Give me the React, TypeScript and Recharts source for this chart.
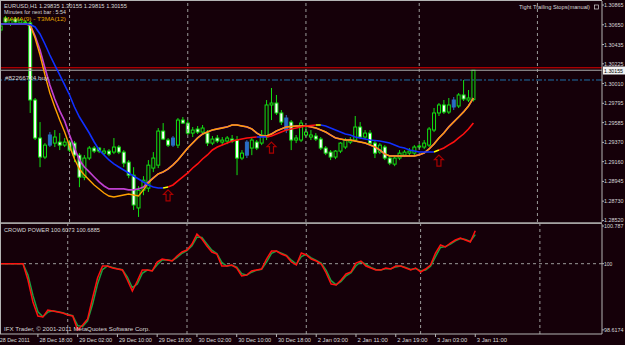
import React from "react";
import { ComposedChart, Bar, Line, XAxis, YAxis, ReferenceLine } from "recharts";

// ---------- data ----------
const opens = [1.30593,1.30724,1.30659,1.30713,1.3067,1.3067,1.3067,1.29831,1.29417,1.2921,1.2934,1.29362,1.29373,1.2934,1.29373,1.29362,1.29231,1.28991,1.29199,1.29308,1.29308,1.29253,1.29275,1.29264,1.29319,1.29264,1.29155,1.29013,1.28656,1.28849,1.28871,1.2909,1.29122,1.29493,1.29395,1.2934,1.2934,1.29613,1.2958,1.29471,1.29515,1.29482,1.29471,1.29362,1.29417,1.29373,1.29384,1.29406,1.29395,1.29199,1.29231,1.29308,1.29373,1.29362,1.29428,1.29777,1.29798,1.2969,1.29504,1.29591,1.29395,1.29395,1.2945,1.29428,1.29439,1.29406,1.29308,1.29264,1.2921,1.29275,1.29319,1.29373,1.29395,1.29537,1.29428,1.29471,1.29362,1.29264,1.29319,1.29199,1.29133,1.29199,1.29231,1.29253,1.29253,1.29319,1.29319,1.2934,1.29504,1.2969,1.29777,1.297,1.29755,1.29766,1.29886,1.29831,1.29835];
const highs = [1.30659,1.30746,1.30724,1.30735,1.30724,1.30702,1.30691,1.29853,1.29591,1.29362,1.29482,1.29504,1.29471,1.29417,1.29395,1.29384,1.29253,1.29231,1.2933,1.2933,1.29319,1.29308,1.29297,1.29417,1.2934,1.29286,1.29177,1.291,1.28893,1.29002,1.29177,1.29264,1.29526,1.2958,1.29417,1.29439,1.29635,1.29646,1.29613,1.29537,1.29548,1.29559,1.29504,1.29439,1.2945,1.29428,1.29439,1.2945,1.29439,1.29286,1.29395,1.29428,1.29395,1.29504,1.29831,1.29962,1.29886,1.29722,1.29668,1.29613,1.2945,1.29613,1.29559,1.29504,1.29471,1.29428,1.2933,1.29286,1.29286,1.29373,1.29417,1.29428,1.29657,1.29591,1.29504,1.29504,1.29384,1.29362,1.2934,1.2922,1.2922,1.29286,1.29286,1.29308,1.2934,1.29351,1.29395,1.29537,1.29744,1.29798,1.29831,1.29853,1.29864,1.29907,1.30049,1.2994,1.30155];
const lows = [1.30561,1.30659,1.30637,1.30659,1.30648,1.30648,1.2969,1.29395,1.291,1.29188,1.29319,1.29319,1.29286,1.29319,1.29264,1.29155,1.28882,1.28958,1.29177,1.29253,1.29253,1.29231,1.2922,1.29242,1.29242,1.291,1.2898,1.28634,1.28558,1.28795,1.2883,1.29046,1.2909,1.29395,1.29319,1.29319,1.29308,1.2957,1.2945,1.29428,1.29461,1.2945,1.2933,1.2934,1.29362,1.2934,1.29351,1.29362,1.29013,1.29177,1.29199,1.29231,1.29286,1.2934,1.29395,1.29613,1.29668,1.29559,1.29471,1.29286,1.29362,1.29373,1.29428,1.29395,1.29384,1.29286,1.29231,1.29177,1.29188,1.29253,1.29297,1.29351,1.29373,1.29406,1.29406,1.2934,1.29199,1.29242,1.29177,1.29122,1.29111,1.29177,1.2921,1.29231,1.29231,1.29297,1.29297,1.29319,1.29482,1.29657,1.29679,1.29679,1.29722,1.29744,1.2982,1.29809,1.29815];
const closes = [1.30637,1.3068,1.30702,1.3068,1.30702,1.3068,1.29831,1.29417,1.2921,1.2934,1.2945,1.29428,1.2934,1.29373,1.29286,1.29231,1.28991,1.29199,1.29308,1.29275,1.29275,1.29275,1.29242,1.29319,1.29264,1.29144,1.29013,1.28688,1.28849,1.28958,1.29122,1.29199,1.29493,1.29406,1.2934,1.29417,1.29613,1.2958,1.29471,1.29504,1.29482,1.29526,1.29362,1.29406,1.29384,1.29395,1.29417,1.29384,1.29199,1.29253,1.29373,1.29395,1.29308,1.2945,1.29777,1.29798,1.2969,1.29591,1.29635,1.29395,1.29417,1.2958,1.29482,1.2945,1.29406,1.29308,1.29253,1.2921,1.29275,1.29362,1.29395,1.29395,1.29537,1.29428,1.29471,1.29362,1.29253,1.2934,1.29199,1.29144,1.29199,1.29253,1.29264,1.29275,1.29319,1.2933,1.29362,1.29515,1.2969,1.29777,1.297,1.29777,1.29831,1.29886,1.29842,1.29853,1.30155];
const blueCandles = [10, 35, 50, 58, 92];

const slowMA = [1.30659,1.30659,1.30659,1.30659,1.30659,1.30659,1.30653,1.30626,1.3055,1.30441,1.30321,1.30212,1.30104,1.29995,1.29886,1.29755,1.29646,1.29559,1.29472,1.29374,1.29287,1.29233,1.29178,1.29135,1.29102,1.29069,1.29037,1.29004,1.28971,1.28939,1.28906,1.28884,1.28873,1.28873,1.28884,1.28906,1.2895,1.28993,1.29037,1.29091,1.29135,1.29189,1.29233,1.29287,1.2932,1.29342,1.29363,1.29385,1.29396,1.29407,1.29418,1.29423,1.29429,1.29429,1.29429,1.2944,1.29461,1.29483,1.29505,1.29516,1.29527,1.29538,1.29548,1.29554,1.29559,1.29559,1.29548,1.29527,1.29505,1.29483,1.29461,1.2945,1.29429,1.29418,1.29407,1.29396,1.29391,1.29385,1.29374,1.29363,1.29342,1.2932,1.29309,1.29287,1.29276,1.29265,1.29265,1.29265,1.29265,1.29287,1.29309,1.29342,1.29374,1.29418,1.29461,1.29516,1.29581];
const slowColor = "bbbbbbbbbbbbbbbbbbbbbbbbbbbbbbbbbb" + "y" + "rrrrrrrrrrrrrrrrrr" + "bb" + "rrrrrrrrrr" + "y" + "bbbbbbbbbbbbbbbbbbbbbbb" + "y" + "rrrrrrr";

const orangeMA = [1.30659,1.30659,1.30659,1.30659,1.30659,1.30659,1.30648,1.30506,1.30321,1.30104,1.29908,1.29755,1.29614,1.29483,1.29331,1.29189,1.2908,1.29015,1.2896,1.28906,1.28863,1.28819,1.28786,1.28775,1.28786,1.28797,1.28808,1.28797,1.28786,1.28852,1.28928,1.28982,1.29026,1.29048,1.2908,1.29124,1.29178,1.29244,1.29309,1.29363,1.29418,1.29461,1.29483,1.29505,1.29516,1.29527,1.29538,1.29559,1.29559,1.29548,1.29538,1.29516,1.29472,1.2944,1.2944,1.29461,1.29494,1.29516,1.29538,1.29543,1.29548,1.29548,1.29548,1.29538,1.29527,1.29505,1.29483,1.2945,1.29418,1.29407,1.29396,1.29396,1.29385,1.29374,1.29363,1.29342,1.2932,1.29287,1.29244,1.29222,1.29222,1.29222,1.29222,1.29222,1.29222,1.29233,1.29255,1.29298,1.29352,1.29418,1.29472,1.29538,1.29592,1.29646,1.29701,1.29766,1.29853];
const magentaMA = [1.30659,1.30659,1.30659,1.30659,1.30659,1.30659,1.30648,1.30528,1.30376,1.3018,1.29995,1.29842,1.29712,1.29603,1.2945,1.29309,1.29178,1.29102,1.29048,1.28993,1.28939,1.28895,1.28863,1.28863,1.28863,1.28863,1.28852,1.28852,1.28863,1.28884,1.28939,1.28982,1.29026,1.29048,1.2908,1.29124,1.29178,1.29244,1.29309,1.29363,1.29418,1.29461,1.29483,1.29505,1.29516,1.29527,1.29538,1.29559,1.29559,1.29548,1.29538,1.29516,1.29472,1.2944,1.2944,1.29461,1.29494,1.29516,1.29538,1.29543,1.29548,1.29548,1.29548,1.29538,1.29527,1.29505,1.29483,1.2945,1.29418,1.29407,1.29396,1.29396,1.29385,1.29374,1.29363,1.29342,1.2932,1.29287,1.29244,1.29222,1.29222,1.29222,1.29222,1.29222,1.29222,1.29233,1.29255,1.29298,1.29352,1.29418,1.29472,1.29538,1.29592,1.29646,1.29701,1.29766,1.29853];

const arrowBars = [34, 55, 89];
const arrowPrices = [1.28852, 1.29373, 1.29231];

const crowdRed = [100,100,100,100,100,100,99.66,99.2,98.908,98.887,99.033,99.012,98.991,98.971,98.929,98.908,98.62,98.72,98.845,99.284,99.701,99.952,99.952,99.91,99.889,99.868,99.66,99.43,99.639,99.868,99.868,99.848,100.035,100.098,100.077,100.056,100.161,100.244,100.286,100.411,100.62,100.516,100.369,100.244,100.202,99.952,99.952,99.973,99.91,99.743,99.764,99.848,99.868,99.889,100.098,100.265,100.265,100.202,100.161,100.035,99.973,100.223,100.182,100.098,100.056,99.994,99.806,99.576,99.555,99.66,99.785,99.827,100.014,100.056,99.952,99.91,99.868,99.868,99.91,99.889,99.952,99.952,99.91,99.868,99.91,99.827,99.889,99.973,100.223,100.39,100.349,100.432,100.495,100.536,100.495,100.453,100.6885];
const crowdGreen = [100,100,100,100,100,100,99.762,99.338,98.996,98.893,98.989,99.018,98.997,98.977,98.942,98.914,98.706,98.69,98.808,99.152,99.576,99.877,99.952,99.923,99.895,99.874,99.722,99.499,99.576,99.799,99.868,99.854,99.979,100.079,100.083,100.062,100.13,100.219,100.273,100.374,100.557,100.547,100.413,100.282,100.215,100.027,99.952,99.967,99.929,99.793,99.758,99.823,99.862,99.883,100.035,100.215,100.265,100.221,100.173,100.073,99.992,100.148,100.194,100.123,100.069,100.013,99.862,99.645,99.561,99.629,99.748,99.814,99.958,100.043,99.983,99.923,99.881,99.868,99.897,99.895,99.933,99.952,99.923,99.881,99.897,99.852,99.87,99.948,100.148,100.34,100.361,100.407,100.476,100.524,100.507,100.466,100.6073];

const xTickIdx = [0, 8, 16, 24, 32, 40, 48, 56, 64, 72, 80, 88, 96];
const xTickLabels = ["28 Dec 2011","28 Dec 18:00","29 Dec 02:00","29 Dec 10:00","29 Dec 18:00","30 Dec 02:00","30 Dec 10:00","30 Dec 18:00","2 Jan 03:00","2 Jan 11:00","2 Jan 19:00","3 Jan 03:00","3 Jan 11:00"];
const daySeparators = [14, 38, 62, 85, 109];

const priceTicks = [1.30865,1.3065,1.30435,1.30225,1.3001,1.29795,1.29585,1.2937,1.2916,1.28945,1.2873,1.2852];
const powerTicks = [100.787, 100, 98.6174];

const bidPrice = 1.30155;
const stopPrice = 1.30182;
const orderPrice = 1.30049;

// ---------- table ----------
const SLOTS = 110;
const seg = (c: string, i: number) =>
  i < slowMA.length && (slowColor[i] === c || slowColor[i + 1] === c) ? slowMA[i] : null;

const rows = Array.from({ length: SLOTS }, (_, i) => {
  const has = i < opens.length;
  const ai = arrowBars.indexOf(i);
  return {
    idx: i,
    range: has ? [lows[i], highs[i]] : null,
    open: has ? opens[i] : null,
    high: has ? highs[i] : null,
    low: has ? lows[i] : null,
    close: has ? closes[i] : null,
    blue: blueCandles.includes(i),
    slowB: seg("b", i),
    slowY: seg("y", i),
    slowR: seg("r", i),
    orange: has ? orangeMA[i] : null,
    magenta: has ? magentaMA[i] : null,
    arrow: ai >= 0 ? arrowPrices[ai] : null,
    cr: has ? crowdRed[i] : null,
    cg: has ? crowdGreen[i] : null,
  };
});

// ---------- styles ----------
const BG = "#150009";
const LIME = "#12e012";
const STEEL = "#2a6cc4";
const TXT = "#d8d8d8";
const GRID = "#9a9a9a";
const AXIS = "#b4b4b4";
const FONT = "'Liberation Sans', Arial, sans-serif";

const Candle = (props: any) => {
  const { x, y, width, height, payload } = props;
  if (!payload || payload.high == null) return <g />;
  const top = Math.min(y, y + height);
  const bot = Math.max(y, y + height);
  const span = payload.high - payload.low;
  const toY = (v: number) => (span > 0 ? top + ((payload.high - v) / span) * (bot - top) : top);
  const cx = x + width / 2;
  const yo = toY(payload.open);
  const yc = toY(payload.close);
  const bTop = Math.min(yo, yc);
  const bH = Math.max(Math.abs(yc - yo), 0.8);
  const bull = payload.close >= payload.open;
  const stroke = payload.blue ? STEEL : LIME;
  const fill = payload.blue ? STEEL : bull ? BG : "#ffffff";
  return (
    <g>
      <line x1={cx} x2={cx} y1={top} y2={bot} stroke={stroke} strokeWidth={1} />
      <rect x={cx - 1.5} y={bTop} width={3} height={bH} fill={fill} stroke={stroke} strokeWidth={1} />
    </g>
  );
};

const ArrowDot = (props: any) => {
  const { cx, cy, index } = props;
  if (cy == null || isNaN(cy) || cx == null) return <g key={"a" + index} />;
  const d = `M${cx},${cy} L${cx + 4.5},${cy + 4.5} L${cx + 2},${cy + 4.5} L${cx + 2},${cy + 11} L${cx - 2},${cy + 11} L${cx - 2},${cy + 4.5} L${cx - 4.5},${cy + 4.5} Z`;
  return <path key={"a" + index} d={d} fill="none" stroke="#a80000" strokeWidth={1.2} />;
};

// chart coordinates are shifted by LEFT_SHIFT relative to the page
const LEFT_SHIFT = 12;
const PAGE_W = 625;

const RightTick = (props: any) => {
  const { x, y, payload, digits } = props;
  const v = payload.value as number;
  const s = digits === "p" ? v.toFixed(5) : String(v);
  const avail = PAGE_W + LEFT_SHIFT - x - 1.5;
  const w = Math.min(s.length * 2.8, avail);
  return (
    <text x={x} y={y} dy={2} fontSize={5.3} fontFamily={FONT} fill={TXT} textAnchor="start"
      textLength={w} lengthAdjust="spacingAndGlyphs">
      {s}
    </text>
  );
};

const BottomTick = (props: any) => {
  const { x, y, payload } = props;
  const k = xTickIdx.indexOf(payload.value);
  const s = k >= 0 ? xTickLabels[k] : "";
  return (
    <text x={x + 1.5} y={y} dy={5} fontSize={6} fontFamily={FONT} fill={TXT} textAnchor="start"
      textLength={s.length * 2.75} lengthAdjust="spacingAndGlyphs">
      {s}
    </text>
  );
};

const CHART_W = 637;
const MARGIN_LEFT = 10.14;
const PAD_RIGHT = 62.11;
const YW = 23;

const T = (p: { x: number; y: number; w: number; s: string; c?: string; fs?: number }) => (
  <text x={p.x} y={p.y} fontSize={p.fs || 6} fontFamily={FONT} fill={p.c || TXT}
    textLength={p.w} lengthAdjust="spacingAndGlyphs">
    {p.s}
  </text>
);

export default function App() {
  return (
    <div style={{ position: "fixed", left: 0, top: 0, width: PAGE_W, height: 345, background: BG, overflow: "hidden" }}>
      <div style={{ position: "absolute", left: -LEFT_SHIFT, top: 0 }}>
        <ComposedChart width={CHART_W} height={222} data={rows}
          margin={{ top: 1, right: 0, bottom: 0, left: MARGIN_LEFT }}>
          <XAxis dataKey="idx" type="category" hide padding={{ left: 0, right: PAD_RIGHT }} />
          <YAxis orientation="right" width={YW} domain={[1.28503, 1.30909]} allowDataOverflow
            ticks={priceTicks} interval={0} tickSize={2} tickMargin={0}
            axisLine={{ stroke: AXIS }} tickLine={{ stroke: AXIS }}
            tick={<RightTick digits="p" />} />
          {daySeparators.map((d) => (
            <ReferenceLine key={"d" + d} x={d} stroke={GRID} strokeDasharray="3 3" ifOverflow="visible" />
          ))}
          <ReferenceLine y={orderPrice} stroke="#1f6fa8" strokeDasharray="6 2 2 2" />
          <ReferenceLine y={bidPrice} stroke="#a8a8a8" />
          <ReferenceLine y={stopPrice} stroke="#e00000" />
          <Bar dataKey={(d: any) => d.range} barSize={3} shape={<Candle />} isAnimationActive={false} />
          <Line dataKey="magenta" stroke="#c040d0" strokeWidth={1.7} dot={false} activeDot={false} isAnimationActive={false} />
          <Line dataKey="orange" stroke="#ffa000" strokeWidth={1.4} dot={false} activeDot={false} isAnimationActive={false} />
          <Line dataKey="slowB" stroke="#1030ff" strokeWidth={1.6} dot={false} activeDot={false} isAnimationActive={false} connectNulls={false} />
          <Line dataKey="slowR" stroke="#ff1010" strokeWidth={1.6} dot={false} activeDot={false} isAnimationActive={false} connectNulls={false} />
          <Line dataKey="slowY" stroke="#ffff00" strokeWidth={1.6} dot={false} activeDot={false} isAnimationActive={false} connectNulls={false} />
          <Line dataKey="arrow" stroke="none" dot={ArrowDot} activeDot={false} isAnimationActive={false} />
        </ComposedChart>
      </div>
      <div style={{ position: "absolute", left: -LEFT_SHIFT, top: 223 }}>
        <ComposedChart width={CHART_W} height={122} data={rows}
          margin={{ top: 1, right: 0, bottom: 0, left: MARGIN_LEFT }}>
          <XAxis dataKey="idx" type="category" height={11} padding={{ left: 0, right: PAD_RIGHT }}
            ticks={xTickIdx} interval={0} tickSize={3} tickMargin={0}
            axisLine={{ stroke: AXIS }} tickLine={{ stroke: AXIS }} tick={<BottomTick />} />
          <YAxis orientation="right" width={YW} domain={[98.532, 100.829]} allowDataOverflow
            ticks={powerTicks} interval={0} tickSize={2} tickMargin={0}
            axisLine={{ stroke: AXIS }} tickLine={{ stroke: AXIS }}
            tick={<RightTick digits="v" />} />
          {daySeparators.map((d) => (
            <ReferenceLine key={"e" + d} x={d} stroke={GRID} strokeDasharray="3 3" ifOverflow="visible" />
          ))}
          <ReferenceLine y={100} stroke={GRID} strokeDasharray="3 3" />
          <Line dataKey="cg" stroke="#1aa040" strokeWidth={1.5} dot={false} activeDot={false} isAnimationActive={false} />
          <Line dataKey="cr" stroke="#ff1010" strokeWidth={1.5} dot={false} activeDot={false} isAnimationActive={false} />
        </ComposedChart>
      </div>
      <svg width={PAGE_W} height={345} style={{ position: "absolute", left: 0, top: 0, pointerEvents: "none" }}>
        <line x1={0.5} x2={0.5} y1={0} y2={334} stroke={AXIS} />
        <line x1={0} x2={602} y1={0.5} y2={0.5} stroke={AXIS} />
        <rect x={0} y={222.3} width={602} height={1.6} fill={AXIS} />
        <rect x={603} y={66.5} width={22} height={8} fill="#f2f2f2" />
        <T x={604} y={73} w={19} s="1.30155" c="#000000" fs={5.3} />
        <T x={4} y={7.5} w={123} s="EURUSD,H1  1.29835 1.30155 1.29815 1.30155" />
        <T x={4} y={14} w={62} s="Minutes for next bar : 5:54" />
        <T x={4} y={20.5} w={62} s="MAMA(9) - T3MA(12)" c="#e0a000" />
        <T x={519} y={9} w={71} s="Tight Trailing Stops(manual)" />
        <rect x={594.5} y={5} width={4} height={4} fill="none" stroke={TXT} strokeWidth={0.7} />
        <T x={5} y={79.5} w={43} s="#82266724 buy" />
        <T x={4} y={232} w={96} s="CROWD POWER  100.6073 100.6885" />
        <T x={4} y={331} w={146} s="IFX Trader, © 2001-2011 MetaQuotes Software Corp." />
      </svg>
    </div>
  );
}
